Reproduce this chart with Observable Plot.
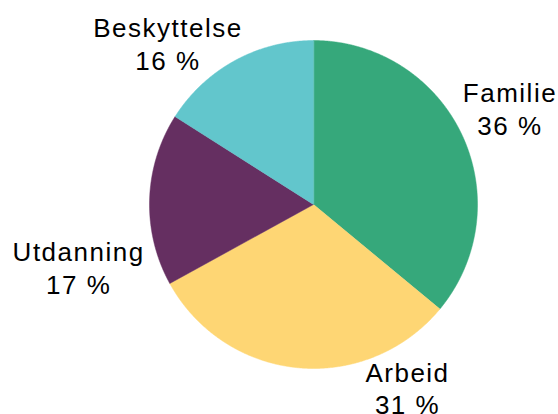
<!DOCTYPE html>
<html>
<head>
<meta charset="utf-8">
<script src="https://cdn.jsdelivr.net/npm/d3@7"></script>
<script src="https://cdn.jsdelivr.net/npm/@observablehq/plot@0.6"></script>
<style>
  html, body { margin: 0; padding: 0; background: #fff; }
  #chart svg { display: block; }
</style>
</head>
<body>
<div id="chart"></div>
<script>
// Data
const categories = ["Familie", "Arbeid", "Utdanning", "Beskyttelse"];
const shares = [36, 31, 17, 16];
const colors = ["#36a87b", "#fed674", "#652f61", "#62c6cc"];

// Label layout: anchor of the last text line, polar (degrees clockwise from top, distance in pie radii)
const labelLayout = {
  Familie:     { angle: 70.5, dist: 1.271 },
  Arbeid:      { angle: 155.85, dist: 1.401 },
  Utdanning:   { angle: 249.2, dist: 1.532 },
  Beskyttelse: { angle: 312.8, dist: 1.21 }
};

const total = d3.sum(shares);
const slices = [];
let cum = 0;
categories.forEach((c, i) => {
  const a0 = (cum / total) * 2 * Math.PI;
  cum += shares[i];
  const a1 = (cum / total) * 2 * Math.PI;
  slices.push({ cat: c, share: shares[i], a0, a1 });
});

// Polygon outline of each slice in unit coordinates
const outline = [];
for (const s of slices) {
  outline.push({ cat: s.cat, x: 0, y: 0 });
  const n = Math.max(2, Math.ceil((s.a1 - s.a0) / (Math.PI / 720)));
  for (let k = 0; k <= n; k++) {
    const a = s.a0 + (s.a1 - s.a0) * k / n;
    outline.push({ cat: s.cat, x: Math.sin(a), y: Math.cos(a) });
  }
}

const labels = slices.map(s => {
  const L = labelLayout[s.cat];
  const a = L.angle * Math.PI / 180;
  return { cat: s.cat, text: `${s.cat}\n${s.share} %`, x: L.dist * Math.sin(a), y: L.dist * Math.cos(a) };
});

const chart = Plot.plot({
  width: 558,
  height: 414,
  margin: 0,
  style: { fontFamily: "'Liberation Sans', Arial, sans-serif", letterSpacing: "1.5px", background: "#fff" },
  x: { domain: [-1, 1], range: [149, 477], axis: null },
  y: { domain: [-1, 1], range: [368, 40], axis: null },
  color: { domain: categories, range: colors },
  marks: [
    Plot.line(outline, { x: "x", y: "y", z: "cat", fill: "cat", stroke: "cat", strokeWidth: 0.5, curve: "linear-closed" }),
    Plot.text(labels, { x: "x", y: "y", text: "text", fontSize: 26, lineHeight: 1.25, fill: "#000", textAnchor: "middle", lineAnchor: "bottom" })
  ]
});
document.getElementById("chart").appendChild(chart);
</script>
</body>
</html>
